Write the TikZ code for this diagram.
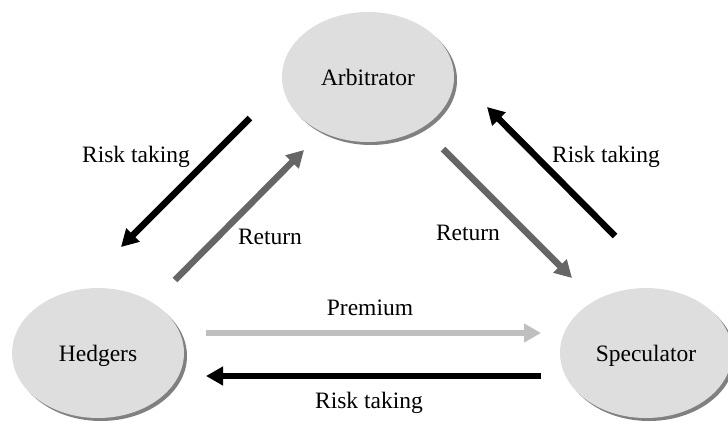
\documentclass[tikz,border=0pt]{standalone}
\usepackage{fontspec}
\setmainfont{Liberation Serif}
\usetikzlibrary{shapes.geometric, arrows.meta, shadows}

\begin{document}
\begin{tikzpicture}[x=1pt, y=-1pt, font=\fontsize{23.5}{28}\selectfont]
    % Define styles
    \tikzstyle{party} = [ellipse, minimum width=172pt, minimum height=130pt, inner sep=0pt, text depth=0pt, fill=black!13, drop shadow={shadow xshift=3pt, shadow yshift=-3pt, fill=black!50, opacity=1}]
    \tikzstyle{riskflow} = [-{Triangle[length=17pt, width=18pt]}, line width=6.5pt, black]
    \tikzstyle{returnflow} = [-{Triangle[length=17pt, width=18pt]}, line width=6.5pt, black!60]
    \tikzstyle{premiumflow} = [-{Triangle[length=17pt, width=18pt]}, line width=6.5pt, black!25]
    \tikzstyle{flowlabel} = [inner sep=1pt]

    \useasboundingbox (0,0) rectangle (728,421);

    % PARTIES
    \node (arbitrator) [party] at (368,77) {Arbitrator};
    \node (hedgers) [party] at (98,353) {Hedgers};
    \node (speculator) [party] at (646,353) {Speculator};

    % ARROW ENDS
    \coordinate (risk1_start) at (250,118);
    \coordinate (risk1_end) at (121,247);
    \coordinate (ret1_start) at (175,280);
    \coordinate (ret1_end) at (304,150);
    \coordinate (ret2_start) at (443,149);
    \coordinate (ret2_end) at (572,278);
    \coordinate (risk2_start) at (615,236);
    \coordinate (risk2_end) at (487,107);
    \coordinate (prem_start) at (206,333);
    \coordinate (prem_end) at (541,333);
    \coordinate (risk3_start) at (541,376);
    \coordinate (risk3_end) at (206,376);

    % CONNECTIONS
    \draw[riskflow] (risk1_start) -- (risk1_end);
    \draw[returnflow] (ret1_start) -- (ret1_end);
    \draw[returnflow] (ret2_start) -- (ret2_end);
    \draw[riskflow] (risk2_start) -- (risk2_end);
    \draw[premiumflow] (prem_start) -- (prem_end);
    \draw[riskflow] (risk3_start) -- (risk3_end);

    % LABELS
    \node (risk1_label) [flowlabel] at (136,157) {Risk taking};
    \node (ret1_label) [flowlabel] at (270,237) {Return};
    \node (ret2_label) [flowlabel] at (468,233) {Return};
    \node (risk2_label) [flowlabel] at (606,157) {Risk taking};
    \node (prem_label) [flowlabel] at (370,308) {Premium};
    \node (risk3_label) [flowlabel] at (369,403) {Risk taking};

\end{tikzpicture}
\end{document}
